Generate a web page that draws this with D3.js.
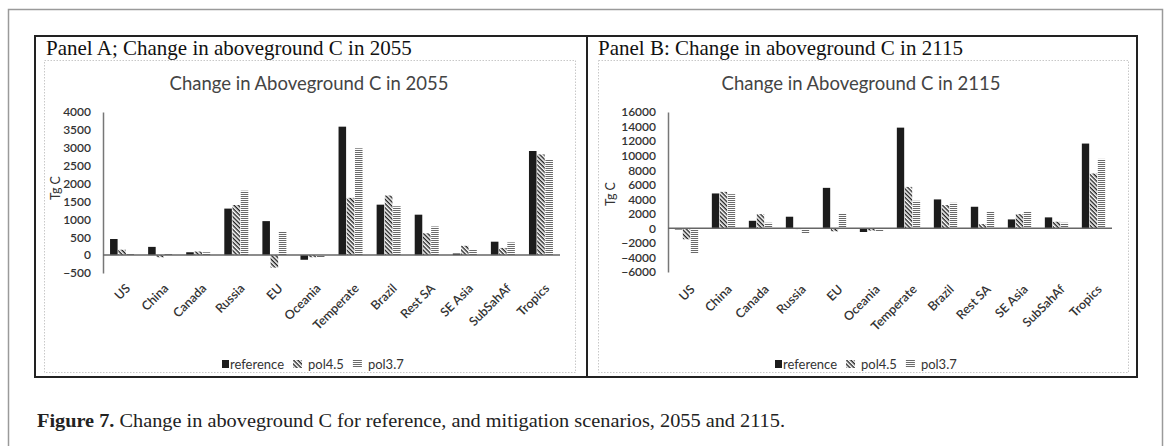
<!DOCTYPE html>
<html>
<head>
<meta charset="utf-8">
<script src="https://cdn.jsdelivr.net/npm/d3@7"></script>
<style>
  body { margin: 0; background: #fff; }
  svg { display: block; }
</style>
</head>
<body>
<svg id="fig" width="1168" height="446"></svg>
<script>
// categories and series
var categories = ["US", "China", "Canada", "Russia", "EU", "Oceania", "Temperate", "Brazil", "Rest SA", "SE Asia", "SubSahAf", "Tropics"];
var seriesNames = ["reference", "pol4.5", "pol3.7"];

// Panel A, 2055 (Tg C)
var ref2055   = [450, 230, 80, 1300, 950, -130, 3590, 1410, 1130, 45, 375, 2910];
var pol45_2055 = [150, -60, 100, 1400, -350, -60, 1600, 1665, 610, 260, 200, 2815];
var pol37_2055 = [30, 30, 80, 1800, 650, -60, 2985, 1365, 800, 170, 355, 2665];

// Panel B, 2115 (Tg C)
var ref2115   = [-150, 4800, 1040, 1600, 5570, -500, 13850, 3980, 2970, 1230, 1510, 11660];
var pol45_2115 = [-1500, 5020, 1960, -100, -400, -300, 5700, 3200, 590, 1960, 910, 7540];
var pol37_2115 = [-3400, 4700, 770, -750, 2050, -400, 3790, 3510, 2280, 2280, 770, 9550];

var ticks2055 = [-500, 0, 500, 1000, 1500, 2000, 2500, 3000, 3500, 4000];
var ticks2115 = [-6000, -4000, -2000, 0, 2000, 4000, 6000, 8000, 10000, 12000, 14000, 16000];

var svg = d3.select("#fig");
var sans = "Lato, 'Open Sans', sans-serif";
var serif = "'Liberation Serif', 'DejaVu Serif', serif";

// patterns
var defs = svg.append("defs");
var diag = defs.append("pattern")
    .attr("id", "diag")
    .attr("patternUnits", "userSpaceOnUse")
    .attr("width", 3).attr("height", 3)
    .attr("patternTransform", "rotate(45)");
diag.append("rect").attr("width", 3).attr("height", 3).attr("fill", "#fff");
diag.append("rect").attr("width", 3).attr("height", 1.4).attr("fill", "#222");

var horiz = defs.append("pattern")
    .attr("id", "horiz")
    .attr("patternUnits", "userSpaceOnUse")
    .attr("width", 4).attr("height", 2);
horiz.append("rect").attr("width", 4).attr("height", 2).attr("fill", "#fff");
horiz.append("rect").attr("width", 4).attr("height", 1).attr("fill", "#6a6a6a");

var fills = {"reference": "#1c1c1c", "pol4.5": "url(#diag)", "pol3.7": "url(#horiz)"};

// outer frame
svg.append("rect")
    .attr("x", 8.5).attr("y", 9.5).attr("width", 1154).attr("height", 450)
    .attr("fill", "none").attr("stroke", "#9a9a9a").attr("stroke-width", 1.5);

// panel box
svg.append("rect")
    .attr("x", 35).attr("y", 36).attr("width", 1102).attr("height", 341)
    .attr("fill", "none").attr("stroke", "#222").attr("stroke-width", 2);
svg.append("line")
    .attr("x1", 587).attr("x2", 587).attr("y1", 36).attr("y2", 377)
    .attr("stroke", "#222").attr("stroke-width", 2);

// caption
var cap = svg.append("text")
    .attr("x", 37).attr("y", 427)
    .attr("textLength", 748).attr("lengthAdjust", "spacingAndGlyphs")
    .style("font-family", serif).style("font-size", "19px").style("fill", "#222");
cap.append("tspan").style("font-weight", "bold").text("Figure 7.");
cap.append("tspan").text(" Change in aboveground C for reference, and mitigation scenarios, 2055 and 2115.");

function drawPanel(cfg) {
    var g = svg.append("g");

    g.append("text")
        .attr("x", cfg.boxX + 11).attr("y", 55)
        .style("font-family", serif).style("font-size", "21px").style("fill", "#111")
        .text(cfg.panelTitle);

    // chart area border (dotted)
    g.append("rect")
        .attr("x", cfg.chartX).attr("y", 60.5).attr("width", cfg.chartW).attr("height", 312)
        .attr("fill", "none").attr("stroke", "#c8c8c8").attr("stroke-dasharray", "1.5,1.5");

    g.append("text")
        .attr("x", cfg.titleX).attr("y", 90)
        .attr("text-anchor", "middle")
        .style("font-family", sans).style("font-size", "18.5px").style("fill", "#444")
        .text(cfg.chartTitle);

    var y = d3.scaleLinear().domain(d3.extent(cfg.ticks)).range([cfg.yBottom, cfg.yTop]);
    var x = d3.scaleBand().domain(categories).range([cfg.x0, cfg.x1]).paddingInner(0.37).paddingOuter(0.185);
    var xs = d3.scaleBand().domain(seriesNames).range([0, x.bandwidth()]).paddingInner(0.08);

    // y axis
    var ya = g.append("g")
        .attr("transform", "translate(" + cfg.x0 + ",0)")
        .call(d3.axisLeft(y).tickValues(cfg.ticks).tickSize(0).tickSizeOuter(0).tickPadding(12)
            .tickFormat(d3.format("d")));
    ya.select(".domain").attr("stroke", "#777").attr("stroke-width", 1.5);
    ya.selectAll("text")
        .style("font-family", sans).style("font-size", "12px").style("fill", "#333").style("font-weight", "600");

    g.append("text")
        .attr("transform", "translate(" + cfg.yTitleX + "," + cfg.yTitleY + ") rotate(-90)")
        .attr("text-anchor", "middle")
        .attr("dy", "0.35em")
        .style("font-family", sans).style("font-size", "12.5px").style("fill", "#333")
        .text("Tg C");

    // bars
    var rows = [];
    categories.forEach(function (c, i) {
        seriesNames.forEach(function (s, j) {
            rows.push({cat: c, s: s, v: cfg.values[j][i]});
        });
    });
    g.append("g").selectAll("rect")
        .data(rows)
        .enter().append("rect")
        .attr("x", function (d) { return x(d.cat) + xs(d.s); })
        .attr("width", xs.bandwidth())
        .attr("y", function (d) { return y(Math.max(0, d.v)); })
        .attr("height", function (d) { return Math.abs(y(d.v) - y(0)); })
        .attr("fill", function (d) { return fills[d.s]; });

    // x axis line at zero
    g.append("line")
        .attr("x1", cfg.x0).attr("x2", cfg.x1)
        .attr("y1", y(0)).attr("y2", y(0))
        .attr("stroke", "#666").attr("stroke-width", 1.5);

    // category labels
    g.append("g").selectAll("text")
        .data(categories)
        .enter().append("text")
        .attr("transform", function (d) {
            return "translate(" + (x(d) + x.bandwidth() / 2 + cfg.labelDx) + "," + cfg.labelY + ") rotate(-45)";
        })
        .attr("text-anchor", "end")
        .attr("dy", "0.35em")
        .style("font-family", sans).style("font-size", "12.5px").style("fill", "#333").style("font-weight", "600")
        .text(function (d) { return d; });

    // legend
    var leg = g.append("g").attr("transform", "translate(" + cfg.legendX + ",364)");
    var lx = 0;
    seriesNames.forEach(function (s, i) {
        var sw = i === 0 ? 7 : 9;
        leg.append("rect")
            .attr("x", lx).attr("y", -4).attr("width", sw).attr("height", 8)
            .attr("fill", fills[s]);
        var t = leg.append("text")
            .attr("x", lx + sw + (i === 0 ? 1 : 6)).attr("y", 0).attr("dy", "0.35em")
            .style("font-family", sans).style("font-size", "13px").style("fill", "#333")
            .text(s);
        lx += sw + (i === 0 ? 1 : 6) + t.node().getComputedTextLength() + 9;
    });
}

drawPanel({
    boxX: 35, chartX: 44.5, chartW: 531,
    panelTitle: "Panel A; Change in aboveground C in 2055",
    chartTitle: "Change in Aboveground C in 2055",
    titleX: 309,
    ticks: ticks2055, yTop: 112, yBottom: 273,
    x0: 103, x1: 560,
    yTitleX: 56, yTitleY: 188,
    labelDx: 6, labelY: 286,
    values: [ref2055, pol45_2055, pol37_2055],
    legendX: 222
});

drawPanel({
    boxX: 587, chartX: 598.5, chartW: 530,
    panelTitle: "Panel B: Change in aboveground C in 2115",
    chartTitle: "Change in Aboveground C in 2115",
    titleX: 861,
    ticks: ticks2115, yTop: 112, yBottom: 272,
    x0: 668, x1: 1112,
    yTitleX: 611, yTitleY: 194,
    labelDx: 6, labelY: 287,
    values: [ref2115, pol45_2115, pol37_2115],
    legendX: 775
});
</script>
</body>
</html>
